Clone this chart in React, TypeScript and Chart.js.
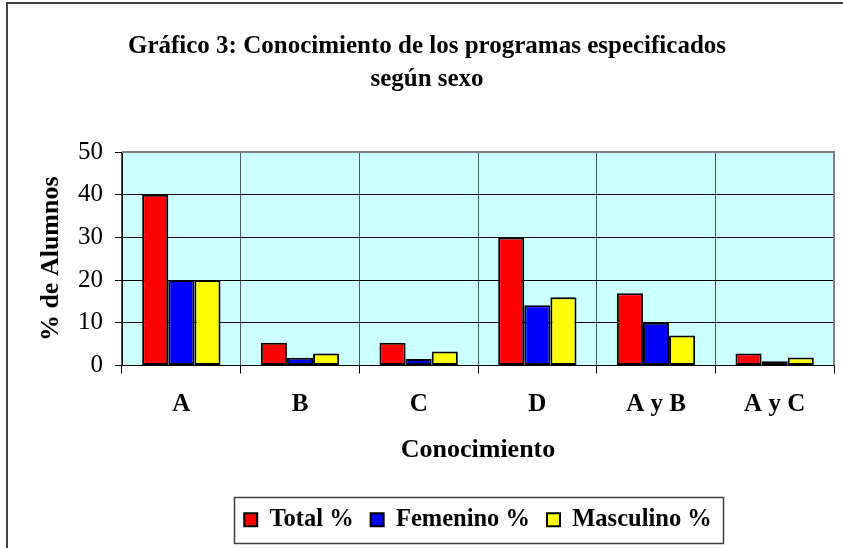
import React, { useEffect, useRef } from "react";
import { Chart, registerables } from "chart.js";

Chart.register(...registerables);

const categories = ["A", "B", "C", "D", "A y B", "A y C"];
const totalPct = [40, 5.3, 5.3, 30, 16.9, 2.8];
const femeninoPct = [20, 1.8, 1.5, 14.1, 10, 1];
const masculinoPct = [20, 2.8, 3.3, 16, 7, 1.9];
const yTicks = [0, 10, 20, 30, 40, 50];

const titleLines = ["Gráfico 3: Conocimiento de los programas especificados", "según sexo"];
const xTitle = "Conocimiento";
const yTitle = "% de Alumnos";

const SERIF = "'Liberation Serif', 'Times New Roman', serif";

const decorPlugin = {
  id: "decor",
  beforeDraw(chart: any) {
    const { ctx, chartArea } = chart;
    ctx.save();
    ctx.fillStyle = "#ffffff";
    ctx.fillRect(0, 0, chart.width, chart.height);
    ctx.fillStyle = "#CCFFFF";
    ctx.fillRect(chartArea.left, chartArea.top, chartArea.right - chartArea.left, chartArea.bottom - chartArea.top);
    ctx.restore();
  },
  afterDraw(chart: any) {
    const { ctx, chartArea, legend } = chart;
    ctx.save();
    // outer chart border
    ctx.strokeStyle = "#404040";
    ctx.lineWidth = 2;
    ctx.strokeRect(7, 3, chart.width + 20, chart.height + 20);
    // plot area top/right border
    ctx.strokeStyle = "#808080";
    ctx.lineWidth = 2;
    ctx.beginPath();
    ctx.moveTo(chartArea.left, chartArea.top);
    ctx.lineTo(chartArea.right, chartArea.top);
    ctx.lineTo(chartArea.right, chartArea.bottom);
    ctx.stroke();
    // legend frame
    if (legend && legend.legendHitBoxes && legend.legendHitBoxes.length) {
      const boxes = legend.legendHitBoxes;
      let minX = Infinity, maxX = -Infinity, minY = Infinity, maxY = -Infinity;
      boxes.forEach((b: any) => {
        minX = Math.min(minX, b.left);
        maxX = Math.max(maxX, b.left + b.width);
        minY = Math.min(minY, b.top);
        maxY = Math.max(maxY, b.top + b.height);
      });
      const cy = (minY + maxY) / 2;
      ctx.strokeStyle = "#404040";
      ctx.lineWidth = 1.5;
      ctx.strokeRect(Math.round(minX - 10) + 0.5, Math.round(cy - 23) + 0.5, Math.round(maxX - minX + 21), 46);
    }
    ctx.restore();
  },
};

export default function App() {
  const ref = useRef<HTMLCanvasElement>(null);
  useEffect(() => {
    const canvas = ref.current;
    if (!canvas) return;
    const chart = new Chart(canvas, {
      type: "bar",
      data: {
        labels: categories,
        datasets: [
          { label: "Total %", data: totalPct, backgroundColor: "#FF0000", borderColor: "#000000", borderWidth: 2, borderSkipped: false },
          { label: "Femenino %", data: femeninoPct, backgroundColor: "#0000FF", borderColor: "#000000", borderWidth: 2, borderSkipped: false },
          { label: "Masculino %", data: masculinoPct, backgroundColor: "#FFFF00", borderColor: "#000000", borderWidth: 2, borderSkipped: false },
        ],
      },
      options: {
        animation: false,
        responsive: false,
        maintainAspectRatio: false,
        devicePixelRatio: 1,
        datasets: { bar: { categoryPercentage: 0.66, barPercentage: 1 } },
        layout: { padding: { left: 20, right: 9, top: 0, bottom: 6 } },
        plugins: {
          title: {
            display: true,
            text: titleLines,
            color: "#000000",
            font: { family: SERIF, size: 25, weight: "bold", lineHeight: 1.32 },
            padding: { top: 30, bottom: 56 },
          },
          legend: {
            display: true,
            position: "bottom",
            fullSize: false,
            labels: {
              color: "#000000",
              font: { family: SERIF, size: 24.5, weight: "bold" },
              boxWidth: 13,
              boxHeight: 13,
              padding: 17,
            },
          },
          tooltip: { enabled: false },
        },
        scales: {
          x: {
            offset: true,
            afterFit: (s: any) => { s.height = 125; },
            grid: { offset: true, color: "#555555", lineWidth: 1, tickLength: 8, tickColor: "#000000" },
            border: { color: "#000000", width: 1 },
            ticks: { color: "#000000", font: { family: SERIF, size: 25, weight: "bold" }, padding: 16, maxRotation: 0 },
            title: {
              display: true,
              text: xTitle,
              color: "#000000",
              font: { family: SERIF, size: 26, weight: "bold" },
              padding: { top: 14, bottom: 25 },
            },
          },
          y: {
            min: 0,
            max: 50,
            afterFit: (s: any) => { s.width = 102; },
            afterBuildTicks: (axis: any) => {
              axis.ticks = yTicks.map((v) => ({ value: v }));
            },
            grid: { color: "#000000", lineWidth: 1, tickLength: 7, tickColor: "#000000" },
            border: { color: "#000000", width: 1 },
            ticks: { color: "#000000", font: { family: SERIF, size: 25 }, padding: 12 },
            title: {
              display: true,
              text: yTitle,
              color: "#000000",
              font: { family: SERIF, size: 26, weight: "bold" },
              padding: { top: 16, bottom: 10 },
            },
          },
        },
      },
      plugins: [decorPlugin],
    });
    return () => chart.destroy();
  }, []);
  return (
    <div style={{ position: "absolute", left: 0, top: 0, width: 843, height: 548 }}>
      <canvas ref={ref} width={843} height={548} style={{ width: 843, height: 548, display: "block" }} />
    </div>
  );
}
